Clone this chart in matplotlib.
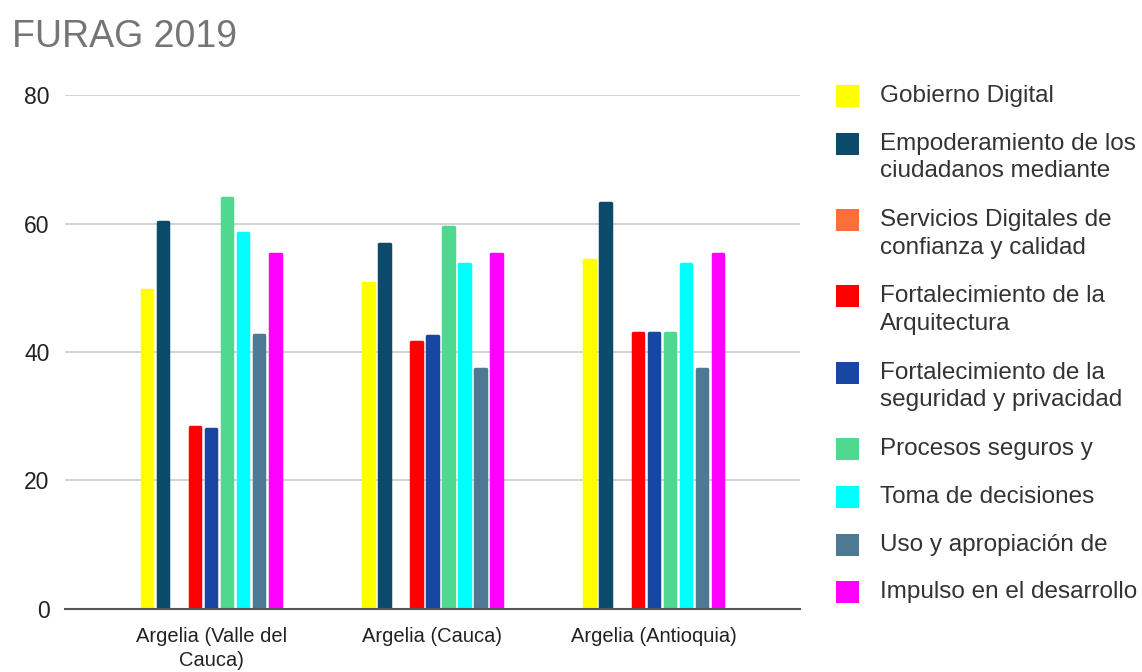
import matplotlib.pyplot as plt
from matplotlib.patches import Rectangle
import numpy as np

plt.rcParams['font.family'] = ['Liberation Sans', 'DejaVu Sans']

municipios = ["Argelia (Valle del\nCauca)", "Argelia (Cauca)", "Argelia (Antioquia)"]

politicas = [
    "Gobierno Digital",
    "Empoderamiento de los\nciudadanos mediante",
    "Servicios Digitales de\nconfianza y calidad",
    "Fortalecimiento de la\nArquitectura",
    "Fortalecimiento de la\nseguridad y privacidad",
    "Procesos seguros y",
    "Toma de decisiones",
    "Uso y apropiación de",
    "Impulso en el desarrollo",
]
colores = ["#ffff00", "#0b4a6b", "#ff6f3c", "#ff0000", "#1846a3",
           "#4fd88f", "#00ffff", "#4d7a92", "#ff00ff"]

# puntaje por politica, un valor por municipio
gobierno_digital = [49.7, 50.8, 54.3]
empoderamiento = [60.2, 56.8, 63.2]
servicios_digitales = [0, 0, 0]
fort_arquitectura = [28.3, 41.5, 42.9]
fort_seguridad = [28.0, 42.5, 42.9]
procesos_seguros = [63.9, 59.5, 42.9]
toma_decisiones = [58.6, 53.7, 53.7]
uso_apropiacion = [42.6, 37.4, 37.4]
impulso_desarrollo = [55.3, 55.3, 55.3]

series = [gobierno_digital, empoderamiento, servicios_digitales, fort_arquitectura,
          fort_seguridad, procesos_seguros, toma_decisiones, uso_apropiacion,
          impulso_desarrollo]

fig = plt.figure(figsize=(11.42, 6.72), dpi=100)
ax = fig.add_axes([0.0569, 0.0938, 0.6436, 0.7648])

x = np.arange(len(municipios))
paso = 0.0724
ancho = 0.048
for i, (vals, c) in enumerate(zip(series, colores)):
    pos = x + (i - 4) * paso
    vals = np.array(vals, dtype=float)
    mask = vals > 0
    ax.bar(pos[mask], vals[mask], width=ancho, color=c, edgecolor=c,
           linewidth=2.5, joinstyle='round', zorder=3)

ax.set_xlim(-0.66, 2.66)
ax.set_ylim(0, 80)
ax.set_yticks([0, 20, 40, 60, 80])
ax.set_xticks(x)
ax.set_xticklabels(municipios, linespacing=1.3, fontsize=14.5)
ax.tick_params(axis='both', length=0, colors='#222222')
ax.tick_params(axis='y', pad=11, labelsize=16.5)
ax.tick_params(axis='x', pad=13)
ax.grid(axis='y', color='#cccccc', linewidth=1.2, zorder=0)
for s in ['top', 'right', 'left']:
    ax.spines[s].set_visible(False)
ax.spines['bottom'].set_color('#555555')
ax.spines['bottom'].set_linewidth(1.5)
ax.spines['bottom'].set_zorder(4)

fig.text(12 / 1142, 1 - 37 / 672, "FURAG 2019", fontsize=27, color='#757575',
         va='center', ha='left')

# leyenda manual: cuadro alineado con la primera linea del texto
W, H = 1142, 672
y = 96
for nombre, c in zip(politicas, colores):
    lineas = nombre.split("\n")
    fig.patches.append(Rectangle(((836) / W, 1 - (y + 11) / H), 23 / W, 22 / H,
                                 transform=fig.transFigure, facecolor=c,
                                 edgecolor='none'))
    for j, linea in enumerate(lineas):
        fig.text(880 / W, 1 - (y + j * 27.5) / H, linea, fontsize=17.5,
                 color='#333333', va='center', ha='left')
    y += 47.8 + 28.5 * (len(lineas) - 1)

fig.savefig("out.png", dpi=100)
